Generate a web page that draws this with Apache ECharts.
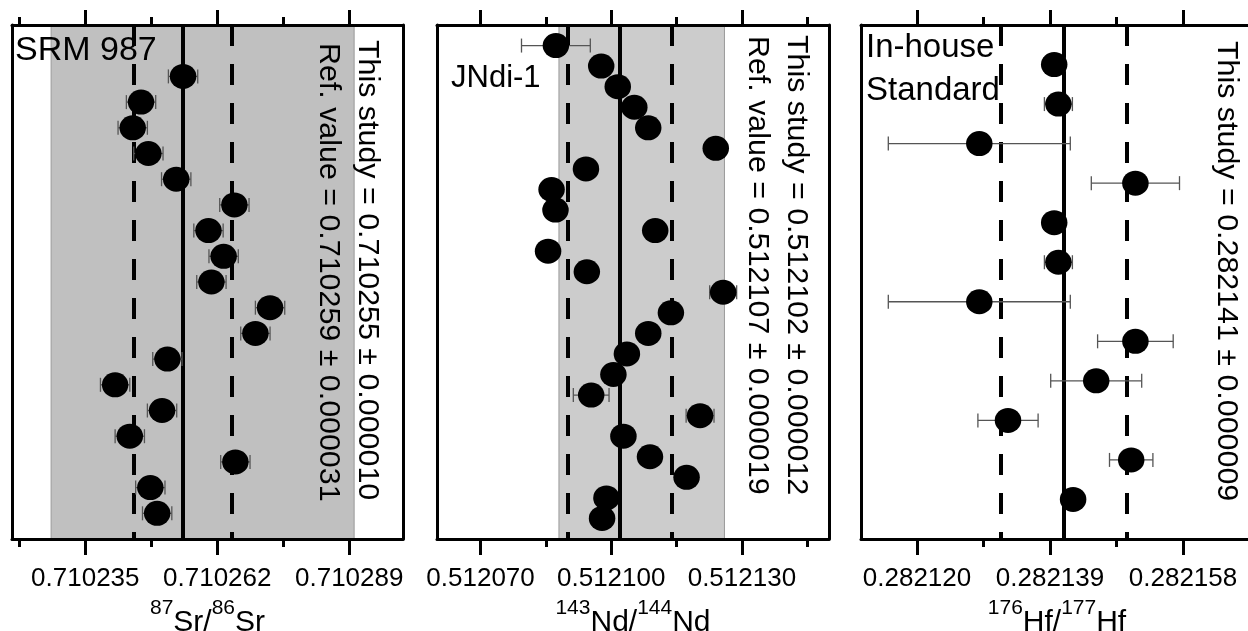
<!DOCTYPE html>
<html>
<head>
<meta charset="utf-8">
<script src="https://cdn.jsdelivr.net/npm/echarts@6/dist/echarts.min.js"></script>
<style>
  html, body { margin: 0; padding: 0; background: #fff; }
  #chart { width: 1248px; height: 631px; }
</style>
</head>
<body>
<div id="chart"></div>
<script>
// ---- 87Sr/86Sr, SRM 987 ----
const srValues = [0.7102550, 0.7102464, 0.7102447, 0.7102479, 0.7102536, 0.7102655,
                  0.7102602, 0.7102633, 0.7102608, 0.7102728, 0.7102698, 0.7102518,
                  0.7102411, 0.7102507, 0.7102441, 0.7102657, 0.7102483, 0.7102497];
const srErrors = [0.0000030, 0.0000030, 0.0000030, 0.0000030, 0.0000030, 0.0000030,
                  0.0000030, 0.0000030, 0.0000030, 0.0000030, 0.0000030, 0.0000030,
                  0.0000030, 0.0000030, 0.0000030, 0.0000030, 0.0000030, 0.0000030];
const srFirstRow = 2;
const srRowCount = 20;
const srRange = [0.710220, 0.710300];
const srMajorTicks = [0.710235, 0.710262, 0.710289];
const srMinorTicks = [0.7102215, 0.7102485, 0.7102755];
const srMean = 0.710255, srSpread = 0.000010;
const srRef = 0.710259, srRefSpread = 0.000031;

// ---- 143Nd/144Nd, JNdi-1 ----
const ndValues = [0.5120873, 0.5120977, 0.5121015, 0.5121053, 0.5121085, 0.5121240,
                  0.5120942, 0.5120863, 0.5120872, 0.5121101, 0.5120855, 0.5120944,
                  0.5121257, 0.5121137, 0.5121085, 0.5121036, 0.5121005, 0.5120954,
                  0.5121204, 0.5121028, 0.5121089, 0.5121173, 0.5120989, 0.5120979];
const ndErrors = [0.0000079, 0.0000020, 0.0000020, 0.0000020, 0.0000020, 0.0000020,
                  0.0000020, 0.0000020, 0.0000020, 0.0000020, 0.0000020, 0.0000020,
                  0.0000031, 0.0000020, 0.0000020, 0.0000020, 0.0000020, 0.0000041,
                  0.0000032, 0.0000020, 0.0000020, 0.0000020, 0.0000020, 0.0000020];
const ndFirstRow = 1;
const ndRowCount = 25;
const ndRange = [0.512060, 0.512150];
const ndMajorTicks = [0.512070, 0.512100, 0.512130];
const ndMinorTicks = [0.512085, 0.512115, 0.512145];
const ndMean = 0.512102, ndSpread = 0.000012;
const ndRef = 0.512107, ndRefSpread = 0.000019;

// ---- 176Hf/177Hf, in-house standard ----
const hfValues = [0.2821396, 0.2821402, 0.2821289, 0.2821512, 0.2821396, 0.2821402,
                  0.2821289, 0.2821512, 0.2821456, 0.2821330, 0.2821506, 0.2821423];
const hfErrors = [0.0000015, 0.0000020, 0.0000130, 0.0000063, 0.0000015, 0.0000020,
                  0.0000130, 0.0000054, 0.0000065, 0.0000043, 0.0000031, 0.0000010];
const hfFirstRow = 1;
const hfRowCount = 13;
const hfRange = [0.282112, 0.282168];
const hfMajorTicks = [0.282120, 0.282139, 0.282158];
const hfMinorTicks = [0.2821295, 0.2821485];
const hfMean = 0.282141, hfSpread = 0.000009;

const FONT = 'Liberation Sans';

const panels = [
  { values: srValues, errors: srErrors, firstRow: srFirstRow, rowCount: srRowCount,
    range: srRange, major: srMajorTicks, minor: srMinorTicks,
    mean: srMean, spread: srSpread, ref: srRef, refSpread: srRefSpread,
    axisName: '{s|87}{b|Sr/}{s|86}{b|Sr}', bandColor: '#c0c0c0',
    left: 12, width: 391 },
  { values: ndValues, errors: ndErrors, firstRow: ndFirstRow, rowCount: ndRowCount,
    range: ndRange, major: ndMajorTicks, minor: ndMinorTicks,
    mean: ndMean, spread: ndSpread, ref: ndRef, refSpread: ndRefSpread,
    axisName: '{s|143}{b|Nd/}{s|144}{b|Nd}', bandColor: '#cccccc',
    left: 437, width: 392 },
  { values: hfValues, errors: hfErrors, firstRow: hfFirstRow, rowCount: hfRowCount,
    range: hfRange, major: hfMajorTicks, minor: hfMinorTicks,
    mean: hfMean, spread: hfSpread, ref: null, refSpread: null,
    axisName: '{s|176}{b|Hf/}{s|177}{b|Hf}', bandColor: null,
    left: 861, width: 392 }
];

const PLOT_TOP = 25, PLOT_HEIGHT = 514;
const frameLine = { color: '#000', width: 3 };
const nameRich = {
  b: { fontFamily: FONT, fontSize: 30, lineHeight: 40, color: '#000', verticalAlign: 'bottom' },
  s: { fontFamily: FONT, fontSize: 21, lineHeight: 12, color: '#000', verticalAlign: 'top' }
};

const grid = [], xAxis = [], yAxis = [], series = [];

panels.forEach((p, i) => {
  grid.push({ left: p.left, top: PLOT_TOP, width: p.width, height: PLOT_HEIGHT,
              containLabel: false, outerBoundsMode: 'none' });

  const xBase = { gridIndex: i, type: 'value', min: p.range[0], max: p.range[1],
                  z: 20, splitLine: { show: false } };
  // bottom: frame line, major ticks, labels, axis title
  xAxis.push(Object.assign({}, xBase, {
    position: 'bottom',
    axisLine: { show: true, onZero: false, lineStyle: frameLine },
    axisTick: { show: true, customValues: p.major, length: 16, lineStyle: { color: '#000', width: 3 } },
    axisLabel: { show: true, customValues: p.major, formatter: v => v.toFixed(6),
                 fontFamily: FONT, fontSize: 26, color: '#000', margin: 27 },
    name: p.axisName, nameLocation: 'middle', nameGap: 59,
    nameTextStyle: { rich: nameRich }
  }));
  // bottom: minor ticks
  xAxis.push(Object.assign({}, xBase, {
    position: 'bottom',
    axisLine: { show: false, onZero: false },
    axisTick: { show: true, customValues: p.minor, length: 8, lineStyle: { color: '#000', width: 3 } },
    axisLabel: { show: false }
  }));
  // top: frame line, major ticks
  xAxis.push(Object.assign({}, xBase, {
    position: 'top',
    axisLine: { show: true, onZero: false, lineStyle: frameLine },
    axisTick: { show: true, customValues: p.major, length: 15, lineStyle: { color: '#000', width: 3 } },
    axisLabel: { show: false }
  }));
  // top: minor ticks
  xAxis.push(Object.assign({}, xBase, {
    position: 'top',
    axisLine: { show: false, onZero: false },
    axisTick: { show: true, customValues: p.minor, length: 8, lineStyle: { color: '#000', width: 3 } },
    axisLabel: { show: false }
  }));

  const yBase = { gridIndex: i, type: 'value', min: 0, max: p.rowCount, inverse: true, z: 20,
                  axisLine: { show: true, onZero: false, lineStyle: frameLine },
                  axisTick: { show: false }, axisLabel: { show: false }, splitLine: { show: false } };
  yAxis.push(Object.assign({}, yBase, { position: 'left' }));
  yAxis.push(Object.assign({}, yBase, { position: 'right' }));

  const xi = i * 4, yi = i * 2;

  // reference band, mean and +/- spread lines (carried by an invisible anchor point)
  const dashed = { type: [21, 18], width: 4, color: '#000' };
  const holder = {
    type: 'scatter', xAxisIndex: xi, yAxisIndex: yi, silent: true, z: 1,
    symbolSize: 0, itemStyle: { opacity: 0 },
    data: [[p.mean, 0]],
    markLine: {
      silent: true, animation: false, precision: 8,
      symbol: ['none', 'none'], label: { show: false },
      lineStyle: { opacity: 1 },
      data: [
        { xAxis: p.mean, lineStyle: { type: 'solid', width: 4, color: '#000', opacity: 1 } },
        { xAxis: p.mean - p.spread, lineStyle: dashed },
        { xAxis: p.mean + p.spread, lineStyle: dashed }
      ]
    }
  };
  if (p.ref !== null) {
    holder.markArea = {
      silent: true, animation: false,
      itemStyle: { color: p.bandColor, borderColor: '#9a9a9a', borderWidth: 1, opacity: 1 },
      data: [[{ xAxis: p.ref - p.refSpread }, { xAxis: p.ref + p.refSpread }]]
    };
  }
  series.push(holder);

  // horizontal error bars with caps
  series.push({
    type: 'custom', xAxisIndex: xi, yAxisIndex: yi, z: 9, silent: true,
    data: p.values.map((v, k) => [v, p.firstRow + k, v - p.errors[k], v + p.errors[k]]),
    encode: { x: [0, 2, 3], y: 1 },
    renderItem: (params, api) => {
      const row = api.value(1);
      const a = api.coord([api.value(2), row]);
      const b = api.coord([api.value(3), row]);
      const cap = 7;
      const st = { stroke: '#555', lineWidth: 1.3 };
      return {
        type: 'group',
        children: [
          { type: 'line', shape: { x1: a[0], y1: a[1], x2: b[0], y2: b[1] }, style: st },
          { type: 'line', shape: { x1: a[0], y1: a[1] - cap, x2: a[0], y2: a[1] + cap }, style: st },
          { type: 'line', shape: { x1: b[0], y1: b[1] - cap, x2: b[0], y2: b[1] + cap }, style: st }
        ]
      };
    }
  });

  // measurements
  series.push({
    type: 'scatter', xAxisIndex: xi, yAxisIndex: yi, z: 10, silent: true,
    symbol: 'circle', symbolSize: [26.5, 25],
    itemStyle: { color: '#000', opacity: 1 },
    data: p.values.map((v, k) => [v, p.firstRow + k])
  });
});

const fmt = (m, s) => m.toFixed(6) + ' \u00b1 ' + s.toFixed(6);

function vText(x, y, text) {
  return { type: 'text', x: x, y: y, rotation: -Math.PI / 2, z: 100,
           style: { text: text, fontFamily: FONT, fontSize: 30.4, fill: '#000',
                    align: 'left', verticalAlign: 'middle' } };
}
function hText(x, y, text, size, extra) {
  return { type: 'text', x: x, y: y, z: 100,
           style: Object.assign({ text: text, fontFamily: FONT, fontSize: size, fill: '#000',
                                  align: 'left', verticalAlign: 'middle' }, extra || {}) };
}

const graphic = [
  hText(15, 51, 'SRM 987', 34),
  vText(367, 40, 'This study = ' + fmt(srMean, srSpread)),
  vText(328, 43, 'Ref. value = ' + fmt(srRef, srRefSpread)),

  hText(451, 78, 'JNdi-1', 31),
  vText(796, 35, 'This study = ' + fmt(ndMean, ndSpread)),
  vText(757, 36, 'Ref. value = ' + fmt(ndRef, ndRefSpread)),

  hText(866, 26, 'In-house\nStandard', 33, { verticalAlign: 'top', lineHeight: 43 }),
  vText(1226, 41, 'This study = ' + fmt(hfMean, hfSpread))
];

const chart = echarts.init(document.getElementById('chart'), null, { renderer: 'canvas' });
chart.setOption({
  animation: false,
  backgroundColor: '#fff',
  grid: grid,
  xAxis: xAxis,
  yAxis: yAxis,
  series: series,
  graphic: graphic
});
</script>
</body>
</html>
